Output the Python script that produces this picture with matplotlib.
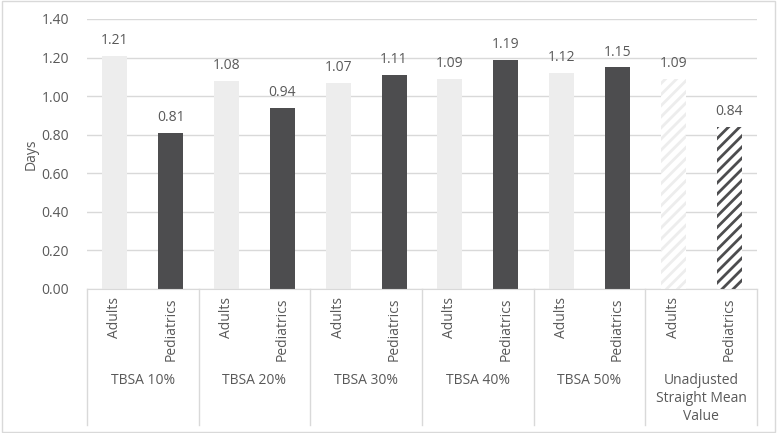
import matplotlib
matplotlib.use("Agg")
from matplotlib import pyplot as plt
from matplotlib.patches import Rectangle
import numpy as np

plt.rcParams['font.family'] = ['Open Sans', 'DejaVu Sans']
plt.rcParams['hatch.linewidth'] = 2.0

groups = ["TBSA 10%", "TBSA 20%", "TBSA 30%", "TBSA 40%", "TBSA 50%",
          "Unadjusted\nStraight Mean\nValue"]
subgroups = ["Adults", "Pediatrics"]
adults = [1.21, 1.08, 1.07, 1.09, 1.12, 1.09]
pediatrics = [0.81, 0.94, 1.11, 1.19, 1.15, 0.84]

light = "#EDEDED"
dark = "#4D4D4F"
txt = "#595959"
grid = "#D9D9D9"

fig = plt.figure(figsize=(7.77, 4.33), dpi=100)
ax = fig.add_axes([87 / 777, 1 - 289 / 433, 670 / 777, 270 / 433])

n = len(groups)
w = 0.45
for i in range(n):
    xa, xp = 2 * i, 2 * i + 1
    if i < n - 1:
        ax.bar(xa, adults[i], w, color=light, zorder=2)
        ax.bar(xp, pediatrics[i], w, color=dark, zorder=2)
    else:
        ax.bar(xa, adults[i], w, color="white", edgecolor=light, hatch="///",
               linewidth=0, zorder=2)
        ax.bar(xp, pediatrics[i], w, color="white", edgecolor=dark, hatch="///",
               linewidth=0, zorder=2)
    ax.text(xa, adults[i] + 0.04, f"{adults[i]:.2f}", ha="center", va="bottom",
            fontsize=10, color=txt)
    ax.text(xp, pediatrics[i] + 0.04, f"{pediatrics[i]:.2f}", ha="center",
            va="bottom", fontsize=10, color=txt)

ax.set_xlim(-0.5, 2 * n - 0.5)
ax.set_ylim(0, 1.4)
ax.set_yticks(np.arange(0, 1.41, 0.2))
ax.set_yticklabels([f"{v:.2f}" for v in np.arange(0, 1.41, 0.2)])
ax.tick_params(axis="y", length=0, colors=txt, labelsize=10, pad=13)
ax.yaxis.grid(True, color=grid, linewidth=1)
ax.set_axisbelow(True)
for s in ["top", "right", "left"]:
    ax.spines[s].set_visible(False)
ax.spines["bottom"].set_color(grid)
ax.set_ylabel("Days", color=txt, fontsize=10, labelpad=2)

ax.set_xticks([])
for i in range(n):
    for j, lab in enumerate(subgroups):
        ax.text(2 * i + j, -0.03, lab, rotation=90, ha="center", va="top",
                fontsize=10, color=txt, transform=ax.get_xaxis_transform())
    ax.text(2 * i + 0.5, -0.31, groups[i], ha="center", va="top",
            fontsize=10, color=txt, linespacing=1.3,
            transform=ax.get_xaxis_transform())
for i in range(n + 1):
    ax.plot([2 * i - 0.5, 2 * i - 0.5], [0, -0.505], color=grid, lw=1,
            transform=ax.get_xaxis_transform(), clip_on=False)

fig.patches.append(Rectangle((0.002, 0.003), 0.995, 0.994, fill=False,
                             edgecolor=grid, lw=1, transform=fig.transFigure))

fig.savefig("out.png", dpi=100)
